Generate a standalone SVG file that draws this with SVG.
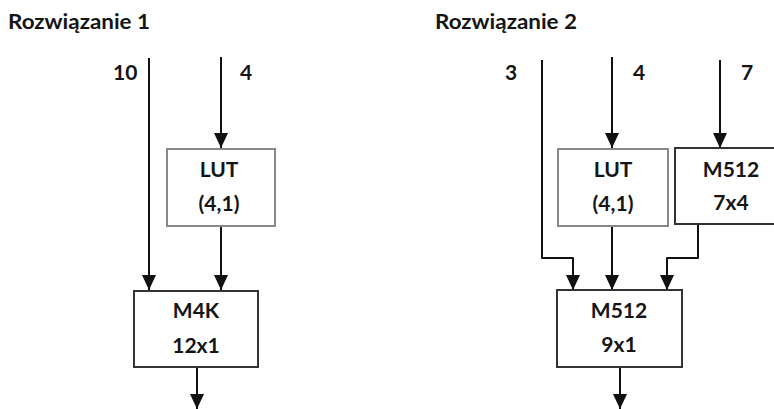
<svg xmlns="http://www.w3.org/2000/svg" width="774" height="409" viewBox="0 0 774 409">
<defs>
<style>
.t{font-family:Lato,"Open Sans","Liberation Sans",sans-serif;font-weight:bold;fill:#151515}
.title{font-size:20px}
.lbl{font-size:21px}
.box{font-size:21px;text-anchor:middle}
.lut{fill:#fff;stroke:#888;stroke-width:2}
.blk{fill:#fff;stroke:#333;stroke-width:2}
.c{fill:none;stroke:#111;stroke-width:2;stroke-linejoin:round;marker-end:url(#ah)}
</style>
<marker id="ah" viewBox="0 0 15 14" refX="15" refY="7" markerWidth="15" markerHeight="14" orient="auto" markerUnits="userSpaceOnUse">
<path d="M0,0 L15,7 L0,14 z" fill="#111"/>
</marker>
</defs>
<rect width="774" height="409" fill="#fff"/>
<text class="t title" x="8" y="29" textLength="142" lengthAdjust="spacingAndGlyphs">Rozwiązanie 1</text>
<text class="t title" x="435" y="29" textLength="142" lengthAdjust="spacingAndGlyphs">Rozwiązanie 2</text>
<g id="labels">
<text class="t lbl" x="113" y="80">10</text>
<text class="t lbl" x="240" y="80">4</text>
<text class="t lbl" x="505" y="80">3</text>
<text class="t lbl" x="633" y="80">4</text>
<text class="t lbl" x="741" y="80">7</text>
</g>
<g id="connectors">
<path class="c" d="M149,58 V290"/>
<path class="c" d="M221,57 V148"/>
<path class="c" d="M221,226 V290"/>
<path class="c" d="M197,368 V409"/>
<path class="c" d="M542,60 V258 H573 V290"/>
<path class="c" d="M612,57 V148"/>
<path class="c" d="M720,60 V148"/>
<path class="c" d="M612,226 V290"/>
<path class="c" d="M698,225 V258 H667 V290"/>
<path class="c" d="M620,368 V409"/>
</g>
<g id="lut1">
<rect class="lut" x="167" y="149" width="108" height="77"/>
<text class="t box" x="219" y="177">LUT</text>
<text class="t box" x="219" y="211">(4,1)</text>
</g>
<g id="m4k">
<rect class="blk" x="134" y="291" width="124" height="76"/>
<text class="t box" x="196" y="318">M4K</text>
<text class="t box" x="196" y="353">12x1</text>
</g>
<g id="lut2">
<rect class="lut" x="558" y="149" width="110" height="77"/>
<text class="t box" x="613" y="177">LUT</text>
<text class="t box" x="613" y="211">(4,1)</text>
</g>
<g id="m512a">
<rect class="blk" x="675" y="148" width="112" height="76"/>
<text class="t box" x="731" y="177">M512</text>
<text class="t box" x="731" y="210">7x4</text>
</g>
<g id="m512b">
<rect class="blk" x="557" y="290" width="125" height="77"/>
<text class="t box" x="619" y="318">M512</text>
<text class="t box" x="619" y="352">9x1</text>
</g>
</svg>
